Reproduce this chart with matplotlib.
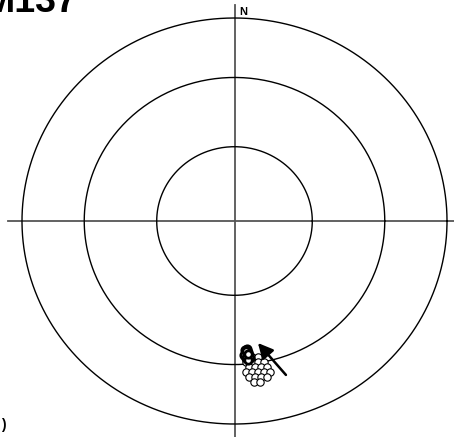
import numpy as np
import matplotlib
matplotlib.use('Agg')
from matplotlib import pyplot as plt

# lower hemisphere equal-area net (degrees)
dark_trend = [175.6, 174.7, 175.2, 174.4, 176.1, 175.0, 174.1, 173.8, 175.4, 174.7, 175.0, 174.5]
dark_plunge = [36.4, 36.8, 35.0, 35.4, 34.2, 33.7, 34.0, 32.6, 32.8, 31.8, 35.8, 34.6]

open_trend = [173.0, 170.6, 175.5, 173.2, 171.0, 168.7, 174.6, 172.4, 170.2, 168.0,
              175.8, 173.7, 171.5, 169.4, 167.3, 174.9, 172.8, 170.8, 168.7, 173.4, 171.4]
open_plunge = [33.0, 32.6, 31.0, 30.7, 30.4, 29.9, 28.6, 28.3, 27.9, 27.3,
               26.3, 26.1, 25.8, 25.3, 24.8, 23.9, 23.6, 23.2, 22.7, 21.3, 20.9]

# arrow: tail -> head (trend, plunge)
arrow_tail = (162.3, 21.5)
arrow_head = (169.6, 38.8)

net_circles = [30, 60, 90]   # angular distance from centre
title = 'M137'


def project(trend, plunge):
    trend = np.radians(np.asarray(trend))
    plunge = np.radians(np.asarray(plunge))
    r = np.sqrt(2) * np.sin((np.pi / 2 - plunge) / 2)
    return r * np.sin(trend), r * np.cos(trend)


fig = plt.figure(figsize=(4.54, 4.37), dpi=100)
ax = fig.add_axes([0, 0, 1, 1])
ax.set_xlim(-1.1035, 1.0329)
ax.set_ylim(-1.064, 1.0887)
ax.axis('off')

t = np.linspace(0, 2 * np.pi, 400)
for c in net_circles:
    r = np.sqrt(2) * np.sin(np.radians(c) / 2)
    ax.plot(r * np.cos(t), r * np.sin(t), color='black', lw=1.0, zorder=2)

ax.plot([-1.065, 1.065], [0, 0], color='#555555', lw=1.3, zorder=1)
ax.plot([0, 0], [-1.065, 1.065], color='#555555', lw=1.3, zorder=1)
ax.text(0.021, 1.015, 'N', fontsize=8, fontweight='bold', ha='left', va='baseline',
        family='Liberation Sans')

ox, oy = project(open_trend, open_plunge)
ax.plot(ox, oy, 'o', ms=5.3, mfc='white', mec='black', mew=0.8, ls='none', zorder=3)
dx, dy = project(dark_trend, dark_plunge)
ax.plot(dx, dy, 'o', ms=5.3, mfc='white', mec='black', mew=2.0, ls='none', zorder=4)

tx, ty = project(*arrow_tail)
hx, hy = project(*arrow_head)
ax.annotate('', xy=(hx, hy), xytext=(tx, ty),
            arrowprops=dict(arrowstyle='-|>,head_length=0.9,head_width=0.45',
                            color='black', lw=1.8, shrinkA=0, shrinkB=0), zorder=5)

fig.text(-17 / 454, 1 - 12 / 437, title, fontsize=27, fontweight='bold',
         family='Liberation Sans', va='baseline', ha='left')
fig.text(1 / 454, 8 / 437, ')', fontsize=10, fontweight='bold',
         family='Liberation Sans', va='baseline', ha='left')

fig.savefig('out.png', dpi=100)
